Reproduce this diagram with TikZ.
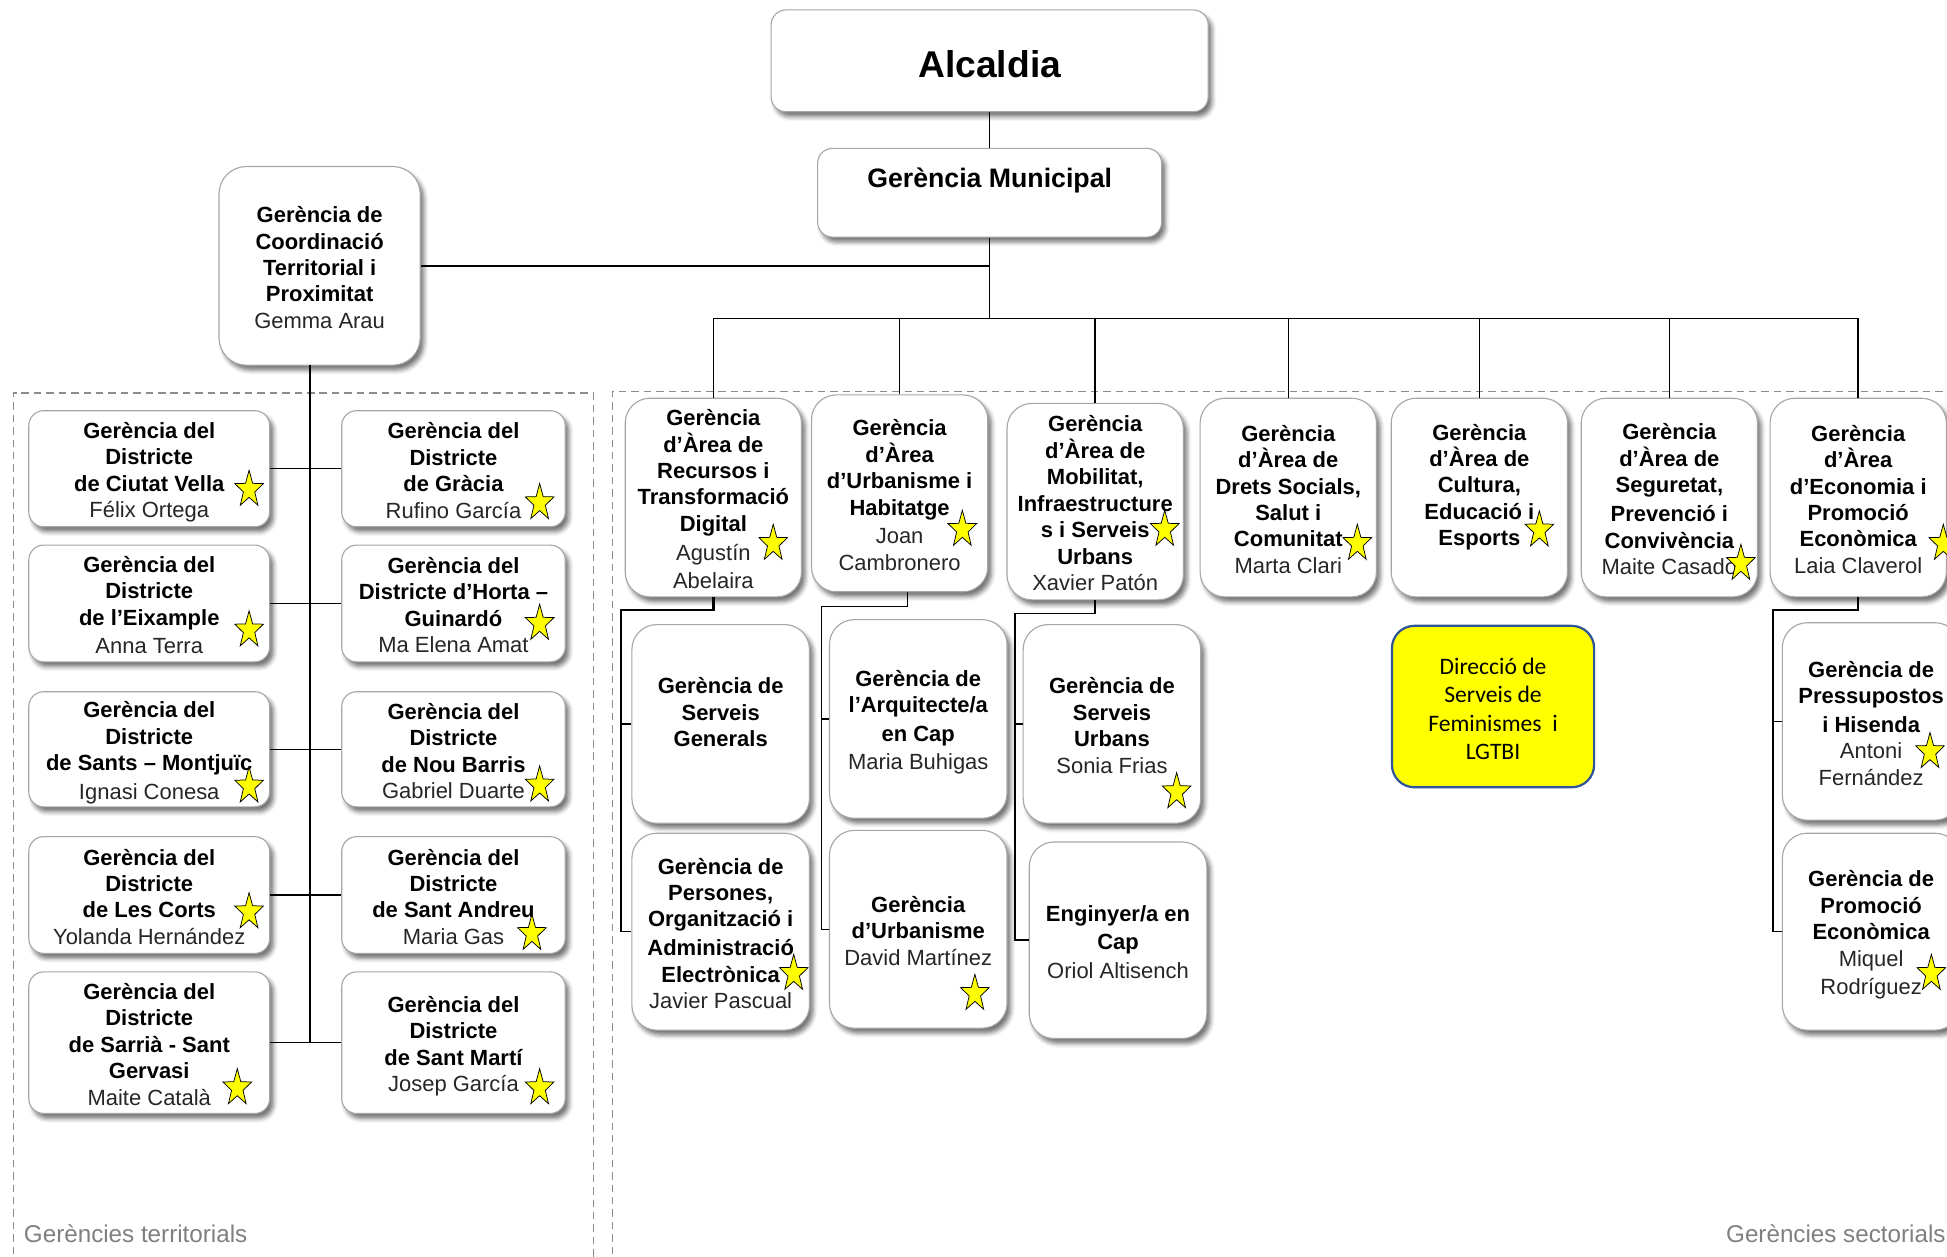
\documentclass[tikz,border=0pt]{standalone}
\usepackage{fontspec}
\setmainfont{Liberation Sans}
\newfontfamily\calfont{Carlito}
\usetikzlibrary{calc,shadows.blur}
\definecolor{namec}{HTML}{262626}
\definecolor{bordc}{HTML}{A6A6A6}
\definecolor{dashc}{HTML}{8C8C8C}
\definecolor{labc}{HTML}{7F7F7F}
\definecolor{ybord}{HTML}{2F5597}
\definecolor{yfill}{HTML}{FFFF00}
\newcommand\ms{\rule[-0.16em]{0pt}{1.2em}}
\newcommand\nmx[1]{{\mdseries\color{namec}#1}}
\tikzset{
  box/.style={draw=bordc, line width=0.9pt, fill=white, inner sep=0pt, align=center,
    blur shadow={shadow xshift=3pt, shadow yshift=-4pt, shadow blur radius=3.5pt, shadow opacity=55},
    font=\fontsize{17.7}{21.3}\selectfont\bfseries},
  dboxl/.style={box, rounded corners=12pt, minimum width=194pt},
  dboxr/.style={box, rounded corners=12pt, minimum width=180pt},
  abox/.style={box, rounded corners=20pt, minimum width=142pt, minimum height=160pt},
  conn/.style={draw=black, line width=1.2pt},
  dashframe/.style={draw=dashc, line width=0.9pt, dash pattern=on 6pt off 4pt},
  grouplabel/.style={text=labc, font=\fontsize{19.5}{23}\selectfont, inner sep=0pt},
  ystar/.pic={\draw[fill=yfill, draw=black, line width=0.6pt, line join=miter, x=12.1pt, y=-15.6pt]
    (0,-0.9045) -- (-0.2351,-0.2281) -- (-0.9511,-0.2135) -- (-0.3804,0.2191) -- (-0.5878,0.9045)
    -- (0,0.4955) -- (0.5878,0.9045) -- (0.3804,0.2191) -- (0.9511,-0.2135) -- (0.2351,-0.2281) -- cycle;}
}
\begin{document}
\begin{tikzpicture}[x=1pt, y=-1pt]
\useasboundingbox (0,0) rectangle (1568,1012);
% frames
\draw[dashframe] (10.8,1020) -- (10.8,316.5) -- (477.8,316.5) -- (477.8,1020);
\draw[dashframe] (493,1020) -- (493,315.5) -- (1580,315.5);
\node[grouplabel, anchor=base west] (lt) at (19.1,1001) {Gerències territorials};
\node[grouplabel, anchor=base east] (ls) at (1567,1001) {Gerències sectorials};

% top boxes
\node[box, rounded corners=12pt, minimum width=352pt, minimum height=82pt,
      font=\fontsize{30}{36}\selectfont\bfseries] (alc) at (797,49) {\ms Alcaldia};
\node[box, rounded corners=12pt, minimum width=277pt, minimum height=71.5pt,
      font=\fontsize{21.5}{25.8}\selectfont\bfseries] (gm) at (797,155.2) {\ms Gerència Municipal\\ \ms};
\node[box, rounded corners=22pt, minimum width=162pt, minimum height=160pt] (co) at (257.4,214.1)
  {\ms Gerència de\\ \ms Coordinació\\ \ms Territorial i\\ \ms Proximitat\\ \ms\nmx{Gemma Arau}};

% districts
\node[dboxl, minimum height=93.5pt] (l1) at (120.2,377.5) {\ms Gerència del\\ \ms Districte\\ \ms de Ciutat Vella\\ \ms\nmx{Félix Ortega}};
\node[dboxr, minimum height=93.5pt] (r1) at (365.2,377.5) {\ms Gerència del\\ \ms Districte\\ \ms de Gràcia\\ \ms\nmx{Rufino García}};
\node[dboxl, minimum height=94pt] (l2) at (120.2,486) {\ms Gerència del\\ \ms Districte\\ \ms de l’Eixample\\ \ms\nmx{Anna Terra}};
\node[dboxr, minimum height=94pt] (r2) at (365.2,486) {\ms Gerència del\\ \ms Districte d’Horta –\\ \ms Guinardó\\ \ms\nmx{Ma Elena Amat}};
\node[dboxl, minimum height=92.7pt] (l3) at (120.2,603.4) {\ms Gerència del\\ \ms Districte\\ \ms de Sants – Montjuïc\\ \ms\nmx{Ignasi Conesa}};
\node[dboxr, minimum height=92.7pt] (r3) at (365.2,603.4) {\ms Gerència del\\ \ms Districte\\ \ms de Nou Barris\\ \ms\nmx{Gabriel Duarte}};
\node[dboxl, minimum height=94pt] (l4) at (120.2,720.8) {\ms Gerència del\\ \ms Districte\\ \ms de Les Corts\\ \ms\nmx{Yolanda Hernández}};
\node[dboxr, minimum height=94pt] (r4) at (365.2,720.8) {\ms Gerència del\\ \ms Districte\\ \ms de Sant Andreu\\ \ms\nmx{Maria Gas}};
\node[dboxl, minimum height=114pt] (l5) at (120.2,839.7) {\ms Gerència del\\ \ms Districte\\ \ms de Sarrià - Sant\\ \ms Gervasi\\ \ms\nmx{Maite Català}};
\node[dboxr, minimum height=114pt] (r5) at (365.2,839.7) {\ms Gerència del\\ \ms Districte\\ \ms de Sant Martí\\ \ms\nmx{Josep García}};

% area boxes
\node[abox] (a1) at (574.5,400.7) {\ms Gerència\\ \ms d’Àrea de\\ \ms Recursos i\\ \ms Transformació\\ \ms Digital\\ \ms\nmx{Agustín}\\ \ms\nmx{Abelaira}};
\node[abox, minimum height=158.5pt] (a2) at (724.5,397.3) {\ms Gerència\\ \ms d’Àrea\\ \ms d’Urbanisme i\\ \ms Habitatge\\ \ms\nmx{Joan}\\ \ms\nmx{Cambronero}};
\node[abox, minimum height=158.2pt] (a3) at (882,404) {\ms Gerència\\ \ms d’Àrea de\\ \ms Mobilitat,\\ \ms Infraestructure\\ \ms s i Serveis\\ \ms Urbans\\ \ms\nmx{Xavier Patón}};
\node[abox] (a4) at (1037.5,400.7) {\ms Gerència\\ \ms d’Àrea de\\ \ms Drets Socials,\\ \ms Salut i\\ \ms Comunitat\\ \ms\nmx{Marta Clari}};
\node[abox] (a5) at (1191.4,400.7) {\ms Gerència\\ \ms d’Àrea de\\ \ms Cultura,\\ \ms Educació i\\ \ms Esports\\ \ms};
\node[abox] (a6) at (1344.4,400.7) {\ms Gerència\\ \ms d’Àrea de\\ \ms Seguretat,\\ \ms Prevenció i\\ \ms Convivència\\ \ms\nmx{Maite Casado}};
\node[abox] (a7) at (1496.5,400.7) {\ms Gerència\\ \ms d’Àrea\\ \ms d’Economia i\\ \ms Promoció\\ \ms Econòmica\\ \ms\nmx{Laia Claverol}};

% second level
\node[abox, minimum width=143pt] (sg) at (580.4,583) {\ms Gerència de\\ \ms Serveis\\ \ms Generals\\ \ms};
\node[abox, minimum width=143pt, minimum height=158.6pt] (pe) at (580.4,750.3) {\ms Gerència de\\ \ms Persones,\\ \ms Organització i\\ \ms Administració\\ \ms Electrònica\\ \ms\nmx{Javier Pascual}};
\node[abox, minimum width=143pt] (aq) at (739.5,579) {\ms Gerència de\\ \ms l’Arquitecte/a\\ \ms en Cap\\ \ms\nmx{Maria Buhigas}};
\node[abox, minimum width=143pt, minimum height=159.3pt] (du) at (739.5,748.4) {\ms Gerència\\ \ms d’Urbanisme\\ \ms\nmx{David Martínez}};
\node[abox, minimum width=143pt] (su) at (895.5,583) {\ms Gerència de\\ \ms Serveis\\ \ms Urbans\\ \ms\nmx{Sonia Frias}};
\node[abox, minimum width=143pt, minimum height=158.3pt] (en) at (900.4,757.2) {\ms Enginyer/a en\\ \ms Cap\\ \ms\nmx{Oriol Altisench}};
\node[abox, minimum width=143pt, minimum height=159pt] (pr) at (1506.9,581) {\ms Gerència de\\ \ms Pressupostos\\ \ms i Hisenda\\ \ms\nmx{Antoni}\\ \ms\nmx{Fernández}};
\node[abox, minimum width=143pt, minimum height=158.6pt] (pm) at (1506.9,750.3) {\ms Gerència de\\ \ms Promoció\\ \ms Econòmica\\ \ms\nmx{Miquel}\\ \ms\nmx{Rodríguez}};

\node[draw=ybord, line width=1.8pt, fill=yfill, rounded corners=18pt, minimum width=162.8pt, minimum height=130pt,
      inner sep=0pt, align=center, font=\calfont\fontsize{19}{23}\selectfont] (yb) at (1202.4,569)
  {\ms Direcció de\\ \ms Serveis de\\ \ms Feminismes~~i\\ \ms LGTBI};

% connectors
\coordinate (bus) at (797,256.4);
\draw[conn] (alc.south) -- (gm.north);
\draw[conn] (gm.south) -- (bus);
\draw[conn] (co.east) -- (co.east -| gm.south);
\draw[conn] (a1.north) |- (bus) -| (a7.north);
\foreach \n in {a2,a3,a4,a5,a6} \draw[conn] (\n.north) -- (\n.north |- bus);

\coordinate (cot) at (249.5,294.1);
\draw[conn] (cot) -- (cot |- l5.east);
\foreach \i in {1,...,5} \draw[conn] (l\i.east) -- (r\i.west);

\coordinate (k1) at (500,491.3);
\draw[conn, line width=2pt] (a1.south) |- (k1) -- (k1 |- sg.west);
\draw[conn] (k1 |- sg.west) -- (sg.west);
\draw[conn] (k1) |- (pe.west);
\coordinate (a2b) at ($(a2.south)+(6.5,0)$);
\coordinate (k2) at (661.6,488.6);
\draw[conn] (a2b) |- (k2) |- (aq.west);
\draw[conn] (k2) |- (du.west);
\coordinate (k3) at (817.6,494);
\draw[conn] (a3.south) |- (k3) |- (su.west);
\draw[conn] (k3) |- (en.west);
\coordinate (k7) at (1428,491.3);
\draw[conn] (a7.south) |- (k7) |- (pr.west);
\draw[conn] (k7) |- (pm.west);

% stars
\foreach \p in {(200.6,392.8),(434.6,403.5),(200.6,506),(434.6,500.7),(200.6,631.7),(434.6,630.9),
  (200.6,733),(428.4,750.4),(191.1,874.7),(434.6,874.7),(622.7,436.3),(775,425),(938,425),
  (947.6,636.3),(639.2,782.6),(785.1,798.7),(1093.1,436.3),(1239.7,425.5),(1402,452.4),
  (1565,436.3),(1554.3,604),(1555.4,782.6)}
  \pic at \p {ystar};
\end{tikzpicture}
\end{document}
